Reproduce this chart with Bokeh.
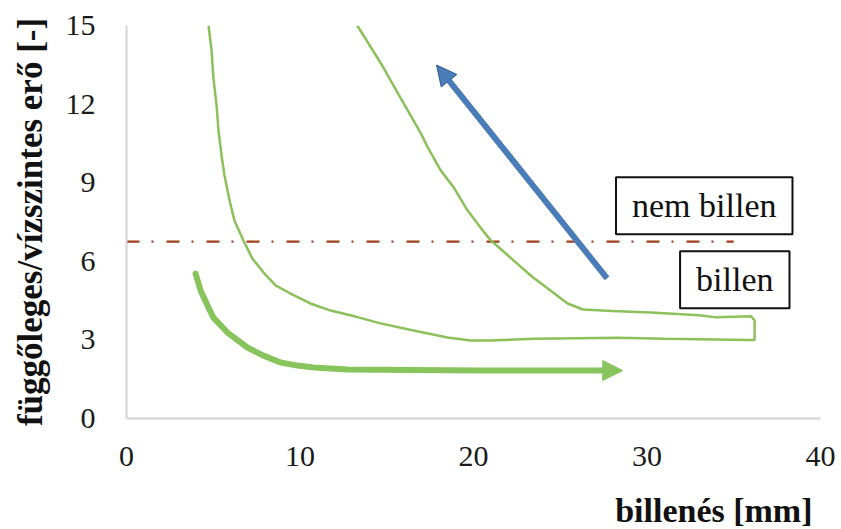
from bokeh.plotting import figure
from bokeh.models import Range1d, FixedTicker, Label, Arrow, NormalHead, Title
from bokeh.embed import file_html
from bokeh.resources import INLINE

# loop curve (billenés [mm] vs függőleges/vízszintes erő [-])
loop_x = [4.73, 4.9, 5.01, 5.19, 5.3, 5.48, 5.65, 5.94, 6.22, 6.74, 7.26, 7.9, 8.59, 9.45,
          10.6, 11.76, 13.2, 14.64, 16.54, 18.5, 19.83, 21.0, 23.5, 26.0, 28.3, 31.0,
          34.0, 35.8, 36.2, 36.2, 36.0, 35.0, 34.0, 33.0, 30.2, 28.0, 26.3, 25.4, 24.4,
          23.4, 22.5, 21.6, 21.0, 20.5, 19.6, 18.85, 18.1, 17.36, 16.95, 16.2, 15.4,
          14.66, 13.3]
loop_y = [15.0, 14.05, 13.0, 11.95, 11.0, 10.04, 9.27, 8.32, 7.56, 6.79, 6.1, 5.57, 5.08,
          4.77, 4.39, 4.12, 3.89, 3.63, 3.36, 3.09, 2.98, 2.98, 3.04, 3.06, 3.08, 3.04,
          3.02, 3.0, 3.0, 3.75, 3.9, 3.88, 3.86, 3.94, 4.05, 4.1, 4.16, 4.4, 4.9,
          5.4, 5.92, 6.45, 6.8, 7.2, 8.0, 8.83, 9.48, 10.36, 10.9, 11.77, 12.7,
          13.56, 15.0]

# limit line (dash-dot)
limit_x = [0.0, 35.0]
limit_y = [6.75, 6.75]

# green direction arrow (loading path)
garrow_x = [3.98, 4.27, 4.67, 5.01, 5.82, 6.97, 7.9, 8.88, 9.86, 10.78, 12.74, 20.4, 27.5]
garrow_y = [5.53, 4.89, 4.31, 3.85, 3.28, 2.71, 2.40, 2.14, 2.02, 1.95, 1.87, 1.83, 1.83]
garrow_tip = [28.6, 1.83]

# blue arrow (unloading direction)
barrow_start = [27.7, 5.35]
barrow_end = [17.87, 13.49]

x_ticks = [0, 10, 20, 30, 40]
y_ticks = [0, 3, 6, 9, 12, 15]

FONT = "Liberation Serif"
GREEN = "#8CC05A"
ARROW_GREEN = "#88C45C"
BLUE = "#4A7DB8"

p = figure(width=838, height=529, output_backend="svg", toolbar_location=None,
           x_range=Range1d(0, 40), y_range=Range1d(0, 15),
           min_border_left=126, min_border_right=18, min_border_top=25, min_border_bottom=111)
p.outline_line_color = None
p.xgrid.visible = False
p.ygrid.visible = False

for ax in (p.xaxis, p.yaxis):
    ax.axis_line_color = "#d4d4d4"
    ax.axis_line_width = 2
    ax.major_tick_line_color = None
    ax.minor_tick_line_color = None
    ax.major_label_text_font = FONT
    ax.major_label_text_font_size = "30px"
    ax.major_label_text_color = "#1a1a1a"

p.xaxis.ticker = FixedTicker(ticks=x_ticks)
p.yaxis.ticker = FixedTicker(ticks=y_ticks)
p.xaxis.major_label_standoff = 22
p.yaxis.major_label_standoff = 25

p.yaxis.axis_label = "függőleges/vízszintes erő [-]"
p.yaxis.axis_label_text_font = FONT
p.yaxis.axis_label_text_font_style = "bold"
p.yaxis.axis_label_text_font_size = "35px"
p.yaxis.axis_label_text_color = "#111111"
p.yaxis.axis_label_standoff = 13

# x axis title, right aligned
xtitle = Title(text="billenés [mm]", align="right", offset=8, standoff=0,
               text_font=FONT, text_font_size="34px", text_font_style="bold",
               text_color="#111111")
try:
    xtitle.padding = dict(left=0, right=0, top=21, bottom=0)
except Exception:
    xtitle.standoff = 20
p.add_layout(xtitle, "below")

# limit line
p.line(limit_x, limit_y, line_color="#9E3F1C", line_width=2.2, line_dash="13 12 2 13")

# loop curve
p.line(loop_x, loop_y, line_color=GREEN, line_width=2.5)

# green arrow
p.line(garrow_x, garrow_y, line_color=ARROW_GREEN, line_width=6, line_cap="round",
       line_join="round")
p.add_layout(Arrow(end=NormalHead(size=20, fill_color=ARROW_GREEN, line_color=ARROW_GREEN),
                   x_start=garrow_x[-1], y_start=garrow_y[-1],
                   x_end=garrow_tip[0], y_end=garrow_tip[1],
                   line_color=ARROW_GREEN, line_width=6))

# blue arrow
p.add_layout(Arrow(end=NormalHead(size=20, fill_color=BLUE, line_color="#2F5E92"),
                   x_start=barrow_start[0], y_start=barrow_start[1],
                   x_end=barrow_end[0], y_end=barrow_end[1],
                   line_color=BLUE, line_width=6))

# text boxes
for txt, bx, by in [("nem billen", 33.3, 8.12), ("billen", 35.06, 5.30)]:
    p.add_layout(Label(x=bx, y=by, text=txt, text_font=FONT, text_font_size="34px",
                       text_color="#111111", text_align="center", text_baseline="middle",
                       border_line_color="#111111", border_line_width=2,
                       background_fill_color="white",
                       padding=dict(left=16, right=16, top=10, bottom=10)))

open("out.html", "w").write(file_html(p, INLINE))
